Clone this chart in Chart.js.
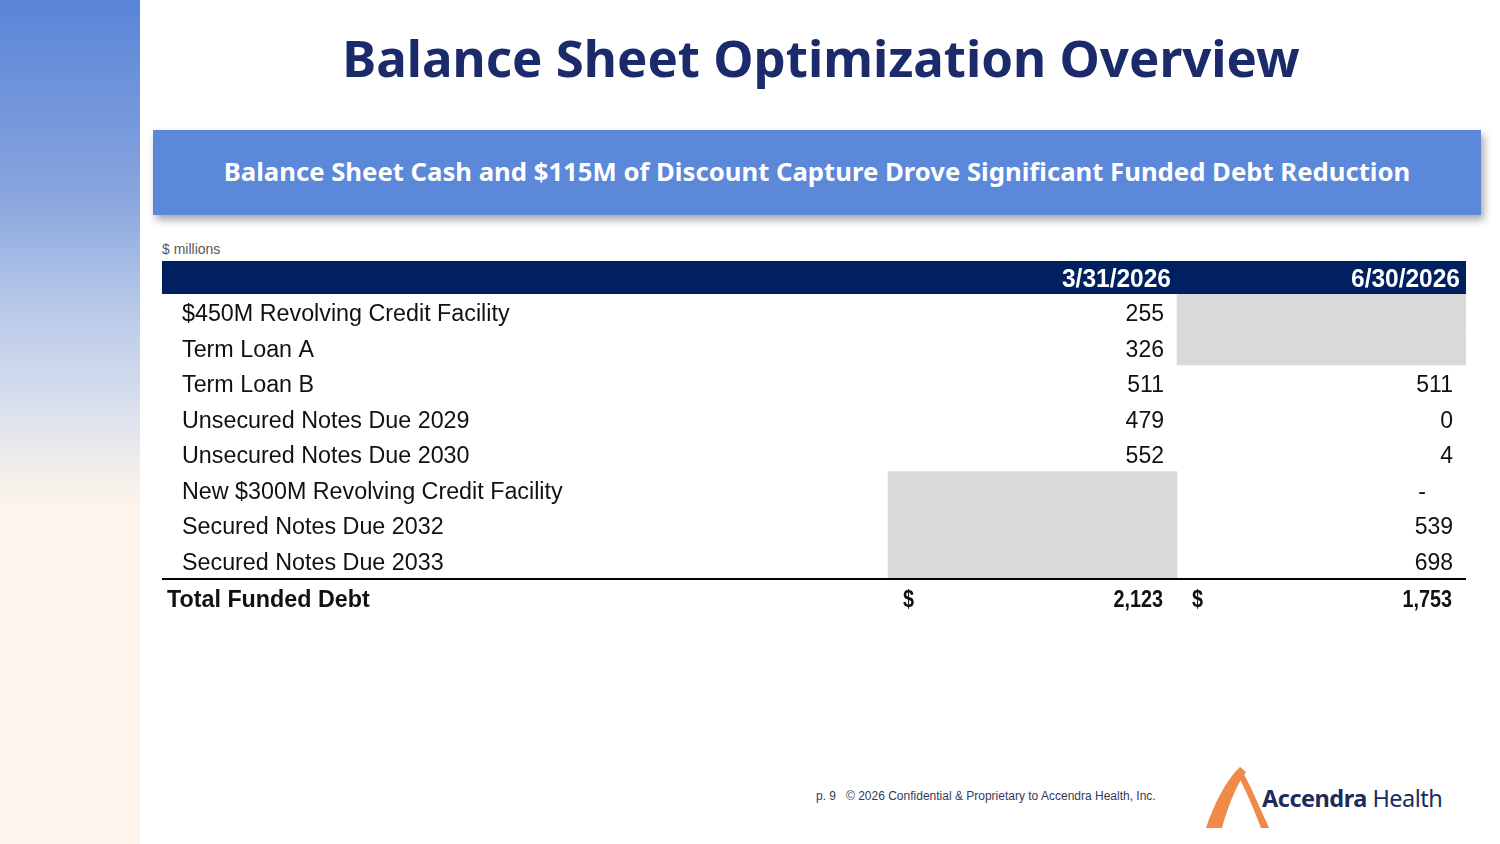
<!DOCTYPE html>
<html>
<head>
<meta charset="utf-8">
<title>Balance Sheet Optimization Overview</title>
<script src="https://cdn.jsdelivr.net/npm/chart.js@4.4.1/dist/chart.umd.min.js"></script>
<style>
    html, body { margin: 0; padding: 0; }
    body { width: 1500px; height: 844px; position: relative; background: #ffffff; overflow: hidden; font-family: "Liberation Sans", Arial, sans-serif; }
    .side { position: absolute; left: 0; top: 0; width: 140px; height: 844px;
        background: linear-gradient(to bottom, #5985d8 0%, #86a3de 22%, #b9cae8 37%, #dfe3ee 50%, #f3eeea 56%, #fdf4ec 60%, #fdf4ec 100%); }
    .title { position: absolute; left: 140px; right: 0; top: 22px; text-align: center; padding-left: 2px;
        font-family: "Noto Sans", sans-serif; font-weight: 700; font-size: 51px; color: #1b2a6b; }
    .banner { position: absolute; left: 153px; top: 130px; width: 1328px; height: 85px; background: #5b88d9;
        box-shadow: 3px 5px 8px rgba(0, 0, 0, 0.35); color: #ffffff; text-align: center; line-height: 84px;
        font-family: "Noto Sans", sans-serif; font-weight: 700; font-size: 25.7px; }
    .units { position: absolute; left: 162px; top: 241px; font-size: 14px; color: #595959; }
    .table-wrap { position: absolute; left: 162px; top: 261px; width: 1304px; height: 360px; }
    .foot { position: absolute; top: 789px; font-size: 12px; color: #333a55; font-family: "Liberation Sans", Arial, sans-serif; }
    .brand { position: absolute; left: 1262px; top: 782px; font-family: "Noto Sans", sans-serif; font-size: 23.5px; color: #1f2a5c; letter-spacing: -0.5px; }
    .brand b { font-weight: 700; }
    .logo { position: absolute; left: 1200px; top: 764px; }
</style>
</head>
<body>
<div class="side"></div>
<div class="title">Balance Sheet Optimization Overview</div>
<div class="banner">Balance Sheet Cash and $115M of Discount Capture Drove Significant Funded Debt Reduction</div>
<div class="units">$ millions</div>
<div class="table-wrap"><canvas id="debtTable" width="1304" height="360"></canvas></div>
<div class="foot" style="left:816px">p. 9</div>
<div class="foot" style="left:846px">© 2026 Confidential &amp; Proprietary to Accendra Health, Inc.</div>
<svg class="logo" width="75" height="68" viewBox="0 0 75 68">
    <path d="M6 64 C14 40 26 16 40 3 L46 8 C36 22 28 42 22 64 Z" fill="#ef8a4a"/>
    <path d="M40 3 C50 20 60 44 69 64 L61 64 C54 46 46 26 38 12 Z" fill="#ef8a4a"/>
</svg>
<div class="brand"><b>Accendra</b> Health</div>

<script>
// row labels and values ($ millions), null = not applicable (grey cell)
const rowLabels = [
    "$450M Revolving Credit Facility",
    "Term Loan A",
    "Term Loan B",
    "Unsecured Notes Due 2029",
    "Unsecured Notes Due 2030",
    "New $300M Revolving Credit Facility",
    "Secured Notes Due 2032",
    "Secured Notes Due 2033"
];
const periods = ["3/31/2026", "6/30/2026"];
const valuesMar = [255, 326, 511, 479, 552, null, null, null];
const valuesJun = [null, null, 511, 0.4, 4, 0, 539, 698];
const totals = [2123, 1753];
const totalLabel = "Total Funded Debt";

document.addEventListener("DOMContentLoaded", function() {
    const navy = "#002060";
    const cellFont = '"Liberation Sans", Arial, sans-serif';

    // accounting style: exact zero shows as a dash
    function fmt(v) {
        if (v === 0) return "-";
        return Math.round(v).toLocaleString("en-US");
    }

    // squeezed text for the narrow bold figures
    function narrowText(ctx, text, x, y, sx) {
        ctx.save();
        ctx.translate(x, y);
        ctx.scale(sx, 1);
        ctx.fillText(text, 0, 0);
        ctx.restore();
    }

    // x axis in column units: label column sits left of 0, the two periods are [0,1] and [1,2]
    const labelCol = -2.512;
    const columns = [[0, 1], [1, 2]];

    const tableText = {
        id: "tableText",
        beforeDatasetsDraw(chart) {
            const { ctx, chartArea } = chart;
            // header band
            ctx.save();
            ctx.fillStyle = navy;
            ctx.fillRect(chartArea.left, chartArea.top - 33, chartArea.right - chartArea.left, 33);
            ctx.restore();
        },
        afterDatasetsDraw(chart) {
            const { ctx, chartArea, scales } = chart;
            const x = scales.x, y = scales.y;
            ctx.save();
            ctx.textBaseline = "middle";

            // header dates
            ctx.fillStyle = "#ffffff";
            ctx.font = "bold 25px " + cellFont;
            ctx.textAlign = "right";
            periods.forEach((p, i) => {
                narrowText(ctx, p, x.getPixelForValue(columns[i][1]) - 6, chartArea.top - 14, 0.98);
            });

            // body rows
            ctx.fillStyle = "#111111";
            rowLabels.forEach((label, i) => {
                const yy = y.getPixelForValue(i) + 3;
                ctx.font = "23.3px " + cellFont;
                ctx.textAlign = "left";
                ctx.fillText(label, x.getPixelForValue(labelCol) + 20, yy);
                ctx.font = "23px " + cellFont;
                [valuesMar, valuesJun].forEach((vals, c) => {
                    const v = vals[i];
                    if (v === null) return;
                    const right = x.getPixelForValue(columns[c][1]) - 13;
                    ctx.textAlign = "right";
                    ctx.fillText(fmt(v), v === 0 ? right - 27 : right, yy);
                });
            });

            // rule above total
            ctx.strokeStyle = "#000000";
            ctx.lineWidth = 2;
            ctx.beginPath();
            ctx.moveTo(chartArea.left, chartArea.bottom + 1);
            ctx.lineTo(chartArea.right, chartArea.bottom + 1);
            ctx.stroke();

            // total row
            const ty = chartArea.bottom + 23;
            ctx.font = "bold 23.3px " + cellFont;
            ctx.textAlign = "left";
            ctx.fillText(totalLabel, x.getPixelForValue(labelCol) + 5, ty);
            totals.forEach((t, c) => {
                ctx.textAlign = "left";
                narrowText(ctx, "$", x.getPixelForValue(columns[c][0]) + 15, ty, 0.85);
                ctx.textAlign = "right";
                narrowText(ctx, fmt(t), x.getPixelForValue(columns[c][1]) - 14, ty, 0.85);
            });
            ctx.restore();
        }
    };

    const ctx = document.getElementById("debtTable").getContext("2d");
    new Chart(ctx, {
        type: "bar",
        data: {
            labels: rowLabels,
            datasets: [
                {
                    label: periods[0],
                    data: valuesMar.map(v => v === null ? columns[0] : null),
                    backgroundColor: "#d9d9d9",
                    barPercentage: 1,
                    categoryPercentage: 1,
                    grouped: false
                },
                {
                    label: periods[1],
                    data: valuesJun.map(v => v === null ? columns[1] : null),
                    backgroundColor: "#d9d9d9",
                    barPercentage: 1,
                    categoryPercentage: 1,
                    grouped: false
                }
            ]
        },
        options: {
            indexAxis: "y",
            responsive: false,
            animation: false,
            layout: { padding: { top: 33, bottom: 43, left: 0, right: 0 } },
            plugins: { legend: { display: false }, tooltip: { enabled: false } },
            scales: {
                x: { type: "linear", min: labelCol, max: 2, display: false },
                y: { type: "category", display: false, offset: true }
            }
        },
        plugins: [tableText]
    });
});
</script>
</body>
</html>
